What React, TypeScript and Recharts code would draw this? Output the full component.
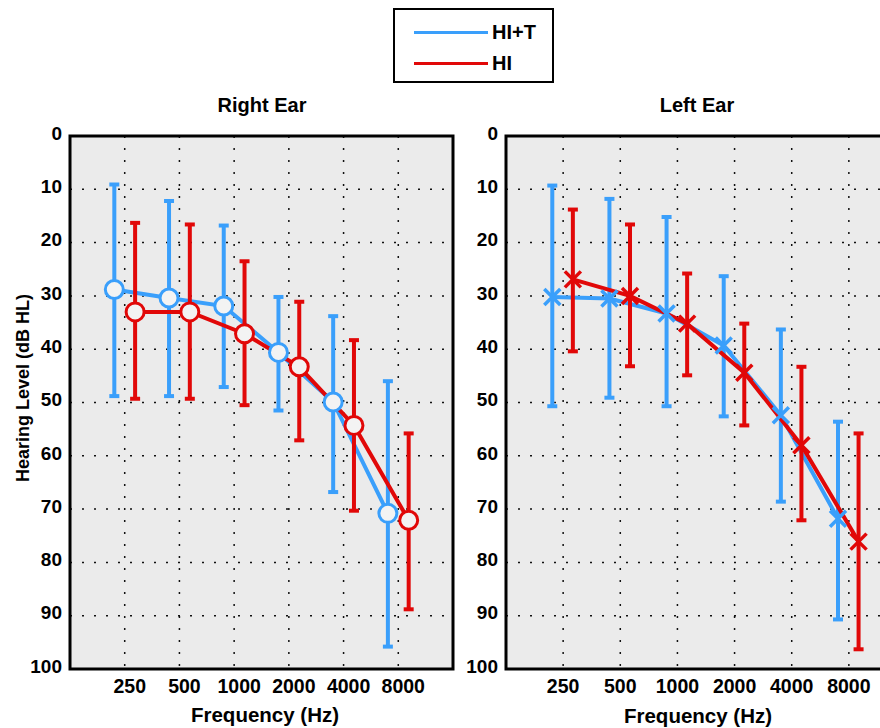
import React from 'react'
import {
  ComposedChart,
  Line,
  XAxis,
  YAxis,
  CartesianGrid,
  ErrorBar,
  ReferenceArea,
} from 'recharts'

// frequency slots on a log2 axis: 125 Hz = 0 ... 16000 Hz = 7
const freqLabels = ['250', '500', '1000', '2000', '4000', '8000']
const freqPos = [1, 2, 3, 4, 5, 6]
const dbTicks = [0, 10, 20, 30, 40, 50, 60, 70, 80, 90, 100]

// Right ear (dB HL): mean, top of bar, bottom of bar
const rightHiT = [28.8, 30.4, 31.9, 40.6, 49.9, 70.8]
const rightHiTTop = [9.1, 12.2, 16.8, 30.2, 33.8, 46.0]
const rightHiTBottom = [48.8, 48.8, 47.1, 51.5, 66.8, 95.8]
const rightHi = [33.0, 33.0, 37.1, 43.3, 54.3, 72.1]
const rightHiTop = [16.3, 16.6, 23.5, 31.1, 38.3, 55.8]
const rightHiBottom = [49.3, 49.3, 50.5, 57.1, 70.3, 88.8]

// Left ear
const leftHiT = [30.2, 30.5, 33.3, 39.3, 52.4, 71.8]
const leftHiTTop = [9.3, 11.8, 15.2, 26.3, 36.3, 53.6]
const leftHiTBottom = [50.7, 49.1, 50.7, 52.6, 68.6, 90.7]
const leftHi = [26.9, 30.0, 35.2, 44.4, 58.0, 76.1]
const leftHiTop = [13.8, 16.6, 25.8, 35.2, 43.3, 55.8]
const leftHiBottom = [40.4, 43.2, 44.9, 54.3, 72.1, 96.3]

const BLUE = '#3a9ffb'
const RED = '#e10808'
const FONT = '"Liberation Sans", Arial, Helvetica, sans-serif'

const build = (mean: number[], top: number[], bottom: number[], shift: number) =>
  mean.map((y, i) => ({
    x: freqPos[i] + shift,
    y,
    err: [y - top[i], bottom[i] - y],
  }))

const CircleDot = (p: any) => {
  if (p.cx == null || p.cy == null) return null
  return <circle cx={p.cx} cy={p.cy} r={9} fill="#f3f3f3" stroke={p.color} strokeWidth={3} />
}

const CrossDot = (p: any) => {
  if (p.cx == null || p.cy == null) return null
  const s = 8
  return (
    <path
      d={`M${p.cx - s},${p.cy - s}L${p.cx + s},${p.cy + s}M${p.cx - s},${p.cy + s}L${p.cx + s},${p.cy - s}`}
      stroke={p.color}
      strokeWidth={3.5}
      fill="none"
    />
  )
}

interface EarProps {
  blue: { x: number; y: number; err: number[] }[]
  red: { x: number; y: number; err: number[] }[]
  marker: 'circle' | 'cross'
  yWidth: number
  right: number
  tickDx: number
}

function EarChart({ blue, red, marker, yWidth, right, tickDx }: EarProps) {
  const Dot = marker === 'circle' ? CircleDot : CrossDot
  const tickStyle = { fill: '#000', fontSize: 19, fontWeight: 700, fontFamily: FONT }
  return (
    <ComposedChart width={460} height={728} margin={{ top: 136, right, bottom: 29, left: 0 }}>
      <CartesianGrid fill="#ebebeb" stroke="#111" strokeWidth={1.5} strokeDasharray="2 10" />
      <XAxis
        type="number"
        dataKey="x"
        domain={[0, 7]}
        ticks={freqPos}
        allowDataOverflow
        tickFormatter={(v: number) => freqLabels[v - 1]}
        height={30}
        tickSize={0}
        tickMargin={10}
        axisLine={false}
        tickLine={false}
        interval={0}
        tick={{ ...tickStyle, fontSize: 19.5, dx: tickDx }}
      />
      <YAxis
        type="number"
        domain={[0, 100]}
        reversed
        ticks={dbTicks}
        allowDataOverflow
        width={yWidth}
        tickSize={0}
        tickMargin={8}
        axisLine={false}
        tickLine={false}
        interval={0}
        tick={{ ...tickStyle, dy: -3 }}
      />
      <Line data={blue} dataKey="y" stroke={BLUE} strokeWidth={4} dot={false} activeDot={false} isAnimationActive={false}>
        <ErrorBar dataKey="err" direction="y" width={5} strokeWidth={4} stroke={BLUE} isAnimationActive={false} />
      </Line>
      <Line data={red} dataKey="y" stroke={RED} strokeWidth={4} dot={false} activeDot={false} isAnimationActive={false}>
        <ErrorBar dataKey="err" direction="y" width={5} strokeWidth={4} stroke={RED} isAnimationActive={false} />
      </Line>
      <Line
        data={blue}
        dataKey="y"
        stroke="none"
        activeDot={false}
        isAnimationActive={false}
        dot={(p: any) => <Dot key={`b${p.index}`} {...p} color={BLUE} />}
      />
      <Line
        data={red}
        dataKey="y"
        stroke="none"
        activeDot={false}
        isAnimationActive={false}
        dot={(p: any) => <Dot key={`r${p.index}`} {...p} color={RED} />}
      />
      <ReferenceArea x1={0} x2={7} y1={0} y2={100} fill="none" stroke="#000" strokeWidth={3} />
    </ComposedChart>
  )
}

export default function App() {
  const txt = { fontFamily: FONT, fontWeight: 700, fill: '#000' }
  return (
    <div
      style={{
        position: 'absolute',
        left: 0,
        top: 0,
        width: 880,
        height: 728,
        overflow: 'hidden',
        background: '#fff',
      }}
    >
      <div style={{ position: 'absolute', left: 0, top: 0 }}>
        <EarChart
          blue={build(rightHiT, rightHiTTop, rightHiTBottom, -0.19)}
          red={build(rightHi, rightHiTop, rightHiBottom, 0.19)}
          marker="circle"
          yWidth={70}
          right={7}
          tickDx={5}
        />
      </div>
      <div style={{ position: 'absolute', left: 460, top: 0 }}>
        <EarChart
          blue={build(leftHiT, leftHiTTop, leftHiTBottom, -0.19)}
          red={build(leftHi, leftHiTop, leftHiBottom, 0.17)}
          marker="cross"
          yWidth={46}
          right={14}
          tickDx={0}
        />
      </div>
      <svg
        width={880}
        height={728}
        style={{ position: 'absolute', left: 0, top: 0, pointerEvents: 'none' }}
      >
        <rect x={394} y={9} width={159} height={73} fill="#fff" stroke="#000" strokeWidth={2} />
        <line x1={414} x2={488} y1={32.5} y2={32.5} stroke={BLUE} strokeWidth={3} />
        <text x={492} y={38.5} fontSize={20} {...txt}>HI+T</text>
        <line x1={414} x2={488} y1={63.5} y2={63.5} stroke={RED} strokeWidth={3} />
        <text x={492} y={70} fontSize={20} {...txt}>HI</text>

        <text x={262} y={112} fontSize={20} textAnchor="middle" {...txt}>Right Ear</text>
        <text x={697} y={112} fontSize={20} textAnchor="middle" {...txt}>Left Ear</text>

        <text x={265} y={722} fontSize={20.5} textAnchor="middle" {...txt}>Frequency (Hz)</text>
        <text x={698} y={723} fontSize={20.5} textAnchor="middle" {...txt}>Frequency (Hz)</text>

        <text
          x={0}
          y={0}
          fontSize={18}
          textAnchor="middle"
          transform="translate(29,388) rotate(-90)"
          {...txt}
        >
          Hearing Level (dB HL)
        </text>
      </svg>
    </div>
  )
}
